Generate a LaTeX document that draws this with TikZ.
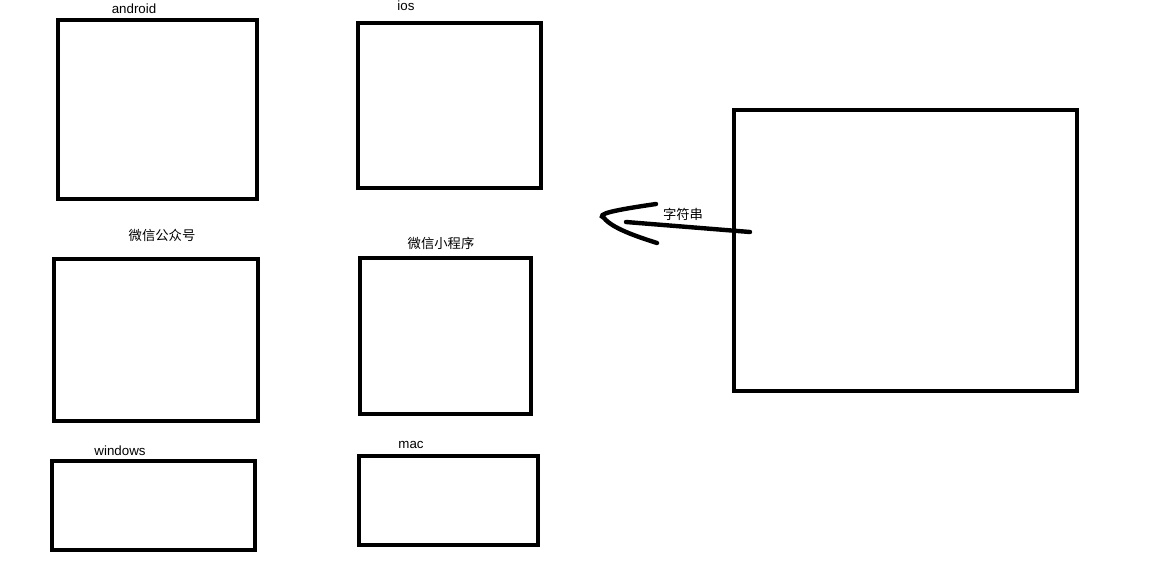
\documentclass[tikz,border=0pt]{standalone}
\usepackage{fontspec}
\setmainfont{Liberation Sans}
\newfontfamily\cjk{Noto Sans CJK SC}
\usepackage{tikz}
\usetikzlibrary{arrows.meta}

\tikzset{
    panel/.style 2 args={draw, line width=3.3pt, inner sep=0pt,
        minimum width=#1*0.75pt, minimum height=#2*0.75pt},
    tag/.style={inner sep=0pt, font=\fontsize{10}{11}\selectfont}
}

\begin{document}
\begin{tikzpicture}[x=0.75pt, y=-0.75pt]
        \useasboundingbox[fill=white] (0,0) rectangle (1167,563);
        \node[panel={199}{179}] (android) at (157.5,109.5) {};
        \node[panel={183}{165}] (ios) at (449.5,105.5) {};
        \node[panel={204}{162}] (gzh) at (156,340) {};
        \node[panel={171}{156}] (xcx) at (445.5,336) {};
        \node[panel={203}{89}] (windows) at (153.5,505.5) {};
        \node[panel={179}{89}] (mac) at (448.5,500.5) {};
        \node[panel={343}{281}] (server) at (905.5,250.5) {};

        \node[tag] (androidtag) at (134,9) {android};
        \node[tag] (iostag) at (406,6) {ios};
        \node[tag] (gzhtag) at (162,235) {\cjk 微信公众号};
        \node[tag] (xcxtag) at (441,243) {\cjk 微信小程序};
        \node[tag] (windowstag) at (120,451) {windows};
        \node[tag] (mactag) at (411,445) {mac};
        \node[tag] (strtag) at (683,214) {\cjk 字符串};

        \coordinate (tail) at (750,232);
        \coordinate (head) at (626,222);
        \coordinate (tip) at (604,218);
        \draw[line width=3.3pt, line cap=round] (tail) -- (head);
        \draw[line width=3.3pt, line cap=round] (656,204) .. controls (615,210) and (595,214) .. (tip)
            .. controls (612,228) and (635,236) .. (657,243);
    \end{tikzpicture}
\end{document}
